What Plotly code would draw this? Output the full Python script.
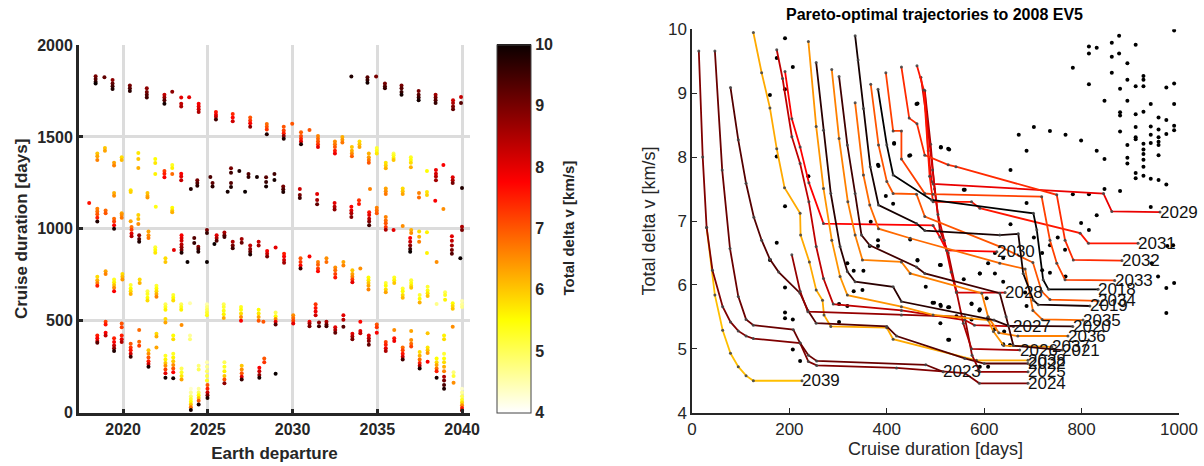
import plotly.graph_objects as go
from plotly.subplots import make_subplots

# ---------------- Left panel: launch windows (departure year, cruise days, total dv) ----------------
clusters = [
    # band A
    (2018.38, [1830, 1815, 1800, 1790], [9.0, 9.3, 9.6, 10.0]),
    (2018.9, [1825], [9.2]),
    (2019.38, [1810, 1790, 1775, 1760], [8.8, 9.2, 9.5, 9.8]),
    (2020.4, [1780, 1765, 1750], [9.0, 9.3, 9.7]),
    (2021.4, [1765, 1745, 1730, 1715], [8.8, 9.0, 9.3, 9.5]),
    (2022.44, [1730, 1715, 1700, 1680], [8.3, 8.7, 9.3, 9.9]),
    (2022.9, [1746], [8.8]),
    (2023.43, [1715, 1680, 1665], [8.0, 8.3, 8.5]),
    (2023.9, [1716], [8.0]),
    (2024.46, [1680, 1665, 1650, 1635], [7.8, 8.0, 8.2, 8.5]),
    (2025.48, [1635, 1620, 1610, 1595], [7.6, 7.9, 8.3, 9.5]),
    (2026.47, [1625, 1605, 1585], [7.4, 7.7, 8.2]),
    (2027.5, [1605, 1590, 1575, 1555], [7.0, 7.3, 7.8, 8.8]),
    (2028.48, [1570, 1555, 1540, 1515], [6.8, 7.0, 7.3, 9.8]),
    (2029.48, [1555, 1535, 1520, 1505, 1490], [7.0, 7.2, 7.5, 8.8, 9.8]),
    (2029.98, [1571], [7.0]),
    (2030.5, [1525, 1505, 1490, 1475, 1460], [6.9, 7.1, 7.4, 8.0, 9.8]),
    (2031.0, [1538], [7.0]),
    (2031.5, [1505, 1490, 1475, 1460, 1445], [6.6, 6.8, 7.0, 7.3, 8.0]),
    (2032.5, [1475, 1460, 1445, 1425, 1410], [6.5, 6.7, 7.0, 7.5, 7.9]),
    (2032.94, [1500, 1485, 1470], [6.2, 6.4, 6.7]),
    (2033.5, [1445, 1425, 1410, 1395], [6.0, 6.2, 6.5, 6.9]),
    (2033.95, [1475, 1460, 1445], [5.8, 6.0, 6.3]),
    (2034.5, [1410, 1390, 1375, 1360], [6.2, 6.4, 6.7, 7.0]),
    (2034.97, [1440, 1425, 1410], [5.2, 5.4, 5.7]),
    (2035.5, [1360, 1345, 1330], [5.7, 5.9, 6.2]),
    (2035.96, [1410, 1400, 1385, 1375], [5.0, 5.3, 5.6, 6.0]),
    (2036.98, [1390, 1375, 1360, 1335], [5.3, 5.5, 5.8, 6.2]),
    (2037.93, [1315], [5.5]),
    (2038.46, [1320, 1300, 1285, 1265], [7.9, 8.1, 8.4, 8.6]),
    (2038.9, [1347], [7.8]),
    (2039.45, [1280, 1265, 1250], [8.0, 8.5, 9.0]),
    (2040.0, [1222], [9.8]),
    (2033.47, [1828], [9.8]),
    (2034.42, [1825, 1810, 1795], [9.3, 9.6, 9.9]),
    (2034.93, [1828], [9.0]),
    (2035.45, [1790, 1775, 1765], [9.0, 9.3, 9.6]),
    (2036.43, [1780, 1765, 1745, 1730], [9.0, 9.3, 9.6, 9.9]),
    (2037.44, [1750, 1730, 1715, 1700], [9.0, 9.3, 9.6, 9.9]),
    (2038.44, [1730, 1715, 1700, 1685], [8.6, 9.0, 9.3, 9.6]),
    (2039.47, [1700, 1685, 1665, 1650], [8.2, 8.5, 8.9, 9.2]),
    (2039.94, [1717, 1684], [8.3, 9.3]),
    # band B
    (2018.48, [1410, 1395, 1375], [6.0, 6.3, 6.6]),
    (2018.93, [1440, 1425], [6.0, 6.3]),
    (2019.47, [1360, 1345], [6.3, 6.6]),
    (2019.92, [1390, 1375], [5.8, 6.1]),
    (2020.9, [1413, 1380, 1331], [5.7, 6.0, 6.2]),
    (2021.9, [1380, 1358, 1298], [5.5, 5.7, 5.6]),
    (2022.44, [1315, 1300, 1280], [7.2, 7.5, 7.8]),
    (2022.9, [1347, 1331, 1298], [5.3, 5.6, 6.8]),
    (2023.43, [1300, 1285, 1265], [7.8, 8.0, 8.3]),
    (2024.0, [1217], [9.8]),
    (2024.38, [1265, 1250, 1235], [9.0, 9.3, 9.7]),
    (2025.15, [1282], [9.4]),
    (2025.28, [1250, 1230], [9.2, 9.7]),
    (2026.17, [1202], [9.9]),
    (2026.37, [1330, 1305, 1250, 1228], [9.0, 9.5, 9.3, 9.8]),
    (2026.86, [1315], [9.8]),
    (2027.2, [1202], [10.0]),
    (2027.4, [1298, 1282], [9.3, 9.6]),
    (2027.9, [1282], [9.9]),
    (2028.44, [1280, 1255, 1230], [9.3, 9.6, 9.9]),
    (2028.93, [1298, 1266], [9.5, 9.9]),
    (2029.45, [1230, 1215, 1200], [9.0, 9.4, 9.8]),
    (2030.43, [1217, 1184, 1168], [8.2, 9.0, 9.5]),
    (2031.45, [1190, 1157, 1134], [8.0, 8.6, 9.2]),
    (2032.48, [1140, 1120, 1105], [8.0, 8.4, 8.8]),
    (2033.47, [1120, 1100, 1085, 1065], [7.8, 8.1, 8.5, 8.9]),
    (2033.92, [1155, 1135], [7.3, 7.6]),
    (2034.52, [1090, 1075, 1055, 1040, 1020], [7.6, 8.0, 8.4, 8.9, 9.5]),
    (2034.57, [1217], [6.6]),
    (2034.97, [1115, 1100, 1085], [6.6, 6.8, 7.0]),
    (2035.5, [1220, 1205, 1190], [6.3, 6.5, 6.7]),
    (2036.5, [1220, 1205, 1190], [5.8, 6.0, 6.3]),
    (2037.46, [1195, 1170], [6.6, 6.8]),
    (2037.93, [1200, 1184], [5.7, 5.9]),
    (2038.42, [1153], [7.8]),
    (2038.9, [1108], [6.5]),
    # band C
    (2018.0, [1141], [7.6]),
    (2018.48, [1110, 1095, 1080, 1060, 1040], [6.6, 6.8, 7.0, 7.5, 9.8]),
    (2018.97, [1100, 1085], [6.8, 7.0]),
    (2019.47, [1055, 1040, 1020, 1000], [6.8, 7.2, 7.8, 9.8]),
    (2019.47, [1195, 1180], [6.2, 6.5]),
    (2019.92, [1085, 1075, 1060], [6.3, 6.5, 6.7]),
    (2020.45, [1210, 1200, 1042], [5.7, 5.9, 6.3]),
    (2020.9, [1075, 1053, 1026], [5.9, 6.1, 6.5]),
    (2021.44, [1195, 1180, 1170], [6.0, 6.2, 6.4]),
    (2021.93, [1120], [5.4]),
    (2022.9, [1115, 1100, 1090], [5.5, 5.8, 6.2]),
    (2020.5, [1010, 995, 975, 960], [6.8, 7.2, 8.0, 8.4]),
    (2020.95, [965, 945, 930], [8.8, 9.3, 9.8]),
    (2021.5, [985, 965, 950], [6.3, 6.5, 6.7]),
    (2021.9, [900, 885, 870], [5.2, 5.5, 5.7]),
    (2022.5, [840, 820], [5.8, 6.0]),
    (2023.0, [885], [8.0]),
    (2023.45, [965, 950, 935, 915, 900, 885, 870], [7.8, 8.0, 8.2, 8.4, 8.7, 9.0, 9.8]),
    (2023.8, [820], [10.0]),
    (2024.2, [950, 923], [9.3, 9.6]),
    (2024.44, [903, 890, 876], [8.8, 9.4, 9.8]),
    (2024.95, [994, 978, 820], [9.0, 9.6, 10.0]),
    (2025.39, [918], [10.0]),
    (2025.52, [965, 950, 935], [8.0, 8.5, 9.3]),
    (2025.98, [980, 965, 955], [8.5, 9.0, 9.5]),
    (2026.47, [930, 910, 895], [8.5, 9.0, 9.5]),
    (2027.0, [945, 925], [8.6, 9.1]),
    (2027.5, [910, 890, 875, 860], [8.3, 8.7, 9.2, 9.8]),
    (2028.0, [930, 910], [8.2, 8.6]),
    (2028.5, [880, 865, 850], [7.8, 8.2, 9.0]),
    (2029.0, [898], [8.0]),
    (2029.5, [865, 850, 830, 815], [7.5, 7.8, 8.2, 8.6]),
    (2030.47, [840, 820, 800, 785], [7.0, 7.3, 7.8, 9.5]),
    (2031.0, [849], [7.8]),
    (2031.5, [820, 805, 785, 770], [6.6, 6.9, 7.2, 7.7]),
    (2032.0, [840, 820], [6.5, 6.8]),
    (2032.52, [790, 775, 755, 735], [6.5, 6.8, 7.2, 7.6]),
    (2033.0, [820, 800], [6.3, 6.6]),
    (2033.53, [775, 755, 740, 725, 710], [6.0, 6.3, 6.6, 7.2, 8.0]),
    (2034.0, [785], [6.5]),
    (2034.48, [735, 720, 705, 690, 670], [5.5, 5.7, 6.0, 6.3, 6.6]),
    (2035.5, [1065, 1045, 1030, 1010, 995], [6.6, 6.8, 7.0, 7.3, 8.5]),
    (2035.96, [994], [8.0]),
    (2036.5, [1015], [6.5]),
    (2036.94, [950, 930, 910, 890, 875], [7.8, 8.2, 8.8, 9.5, 10.0]),
    (2037.0, [994, 978], [6.2, 6.5]),
    (2037.47, [985, 957, 930], [5.8, 6.2, 6.6]),
    (2037.93, [981, 869], [5.6, 5.6]),
    (2038.5, [820], [6.5]),
    (2039.4, [960, 935, 910, 885, 865], [8.0, 8.3, 8.6, 9.0, 9.3]),
    (2039.9, [840], [10.0]),
    (2040.0, [1012, 994], [8.5, 9.0]),
    # band D
    (2018.48, [740, 720, 705, 690], [5.8, 6.2, 6.6, 7.5]),
    (2018.97, [770, 755], [6.3, 6.6]),
    (2019.47, [725, 710, 695, 680, 660], [5.3, 5.6, 6.0, 6.5, 7.8]),
    (2019.96, [755, 740, 725], [5.8, 6.1, 6.4]),
    (2020.45, [695, 675, 660, 645], [5.2, 5.5, 5.8, 6.2]),
    (2020.98, [725, 705], [5.8, 6.2]),
    (2021.44, [660, 645, 625, 610], [5.1, 5.3, 5.5, 5.8]),
    (2021.97, [690, 675, 660, 645, 630], [5.2, 5.5, 5.8, 6.2, 6.6]),
    (2022.5, [590, 575, 560], [5.0, 5.3, 5.6]),
    (2022.96, [640, 625, 610], [5.2, 5.5, 5.8]),
    (2023.43, [590, 575, 560], [5.0, 5.3, 5.6]),
    (2023.95, [595], [4.5]),
    (2024.95, [590, 575, 560, 545, 530], [4.5, 4.8, 5.0, 5.2, 5.4]),
    (2025.94, [590, 575, 555, 535, 515], [5.0, 5.2, 5.4, 5.6, 6.2]),
    (2026.96, [575, 560, 540, 520, 500], [5.3, 5.5, 5.8, 6.5, 7.8]),
    (2028.0, [560, 540, 520, 500], [5.5, 5.7, 6.3, 7.0]),
    (2028.28, [495], [7.0]),
    (2029.0, [545, 525, 510, 495, 480], [5.0, 5.5, 6.5, 8.0, 9.3]),
    (2030.04, [530, 515, 500, 485], [6.5, 6.8, 7.2, 8.0]),
    (2031.0, [495, 485, 470], [7.8, 8.5, 9.0]),
    (2031.36, [590, 570, 550, 530], [7.3, 7.6, 7.9, 8.2]),
    (2031.56, [490, 470], [8.8, 9.5]),
    (2032.0, [495, 480, 470], [8.5, 9.0, 9.5]),
    (2032.52, [465, 450, 435], [8.0, 8.5, 9.2]),
    (2033.0, [530, 505, 468], [8.0, 8.4, 9.3]),
    (2033.53, [430, 415, 400], [8.0, 8.5, 9.0]),
    (2034.0, [495, 444, 432], [7.7, 8.0, 8.3]),
    (2034.5, [420, 405, 390, 370], [8.0, 8.4, 8.8, 9.2]),
    (2034.97, [480, 465, 435], [7.0, 7.3, 7.8]),
    (2035.5, [705, 690, 670, 655], [5.2, 5.5, 5.8, 6.3]),
    (2036.0, [735, 720, 705], [5.3, 5.6, 6.0]),
    (2036.5, [675, 660, 640, 625], [5.2, 5.5, 5.8, 6.1]),
    (2037.0, [720, 705, 690, 680], [5.2, 5.4, 5.7, 6.0]),
    (2037.5, [640, 620, 600], [5.2, 5.5, 6.2]),
    (2037.97, [685, 665, 650, 635], [5.2, 5.4, 5.7, 6.0]),
    (2038.5, [591], [4.7]),
    (2039.0, [655, 640, 615], [5.0, 5.3, 5.6]),
    (2039.45, [595, 580, 565], [5.5, 5.8, 6.0]),
    (2040.0, [608, 590, 575], [4.5, 4.6, 4.7]),
    # band E (lowest)
    (2018.48, [420, 405, 390, 380], [7.5, 7.8, 8.2, 9.3]),
    (2018.97, [495, 480, 435, 420], [7.2, 7.6, 7.8, 8.3]),
    (2019.47, [405, 385, 365, 350, 335], [7.5, 7.8, 8.2, 8.8, 9.8]),
    (2019.92, [485, 465, 420, 400, 385], [7.0, 7.2, 7.5, 8.0, 8.5]),
    (2020.45, [375, 355, 340, 320, 305], [7.0, 7.3, 7.6, 8.2, 9.5]),
    (2020.95, [450, 386, 364], [6.8, 6.8, 7.2]),
    (2021.5, [340, 320, 300, 280, 265, 250], [6.0, 6.5, 7.0, 7.5, 8.2, 9.8]),
    (2021.97, [430, 415, 354], [5.8, 6.2, 6.3]),
    (2022.5, [510, 490], [5.8, 6.3]),
    (2022.5, [310, 290, 270, 255, 235, 215, 190], [5.3, 5.6, 6.0, 6.5, 7.2, 8.0, 9.9]),
    (2022.96, [420, 400], [5.5, 5.8]),
    (2022.96, [320, 300, 280, 260, 240, 220, 187], [5.3, 5.6, 6.0, 6.5, 7.0, 7.8, 9.9]),
    (2023.45, [477], [6.5]),
    (2023.45, [240, 220, 200, 180], [5.0, 5.3, 5.7, 6.3]),
    (2023.95, [420, 400], [4.6, 4.8]),
    (2024.0, [130, 110, 90, 75, 60, 45, 30, 15], [4.3, 4.6, 4.9, 5.2, 5.5, 6.0, 6.8, 9.9]),
    (2024.46, [130, 110, 95, 80, 65, 45], [4.6, 5.0, 5.5, 6.0, 7.0, 9.8]),
    (2024.46, [255, 235], [4.8, 5.0]),
    (2024.98, [150, 130, 110, 95, 80], [7.0, 7.5, 8.2, 9.0, 9.8]),
    (2024.95, [275, 250, 225, 200, 175], [4.5, 4.7, 4.9, 5.1, 5.3]),
    (2025.98, [275, 250, 225, 200, 180, 160], [5.0, 5.3, 5.6, 6.0, 7.0, 8.8]),
    (2027.0, [255, 235, 215, 195, 180], [6.0, 6.5, 7.0, 8.0, 9.6]),
    (2028.04, [245, 225, 205, 190], [7.8, 8.2, 8.8, 9.8]),
    (2028.33, [295, 275], [7.0, 7.3]),
    (2029.0, [212], [10.0]),
    (2035.5, [385, 370, 350, 335], [7.2, 7.5, 8.0, 8.5]),
    (2036.0, [450, 405, 390], [6.5, 7.6, 7.9]),
    (2036.5, [355, 340, 320, 305, 290], [6.8, 7.2, 7.6, 8.2, 9.5]),
    (2037.0, [444, 395, 375, 360], [6.3, 6.5, 6.8, 7.2]),
    (2037.5, [330, 310, 290, 270, 255, 240], [5.8, 6.2, 6.8, 7.5, 8.5, 9.8]),
    (2037.97, [432, 355, 340, 325, 277], [6.0, 5.7, 6.0, 6.4, 7.8]),
    (2038.5, [295, 275, 260, 240, 225, 190], [5.5, 5.8, 6.3, 6.8, 7.5, 9.9]),
    (2038.94, [420, 400], [5.6, 5.8]),
    (2038.94, [320, 295, 275, 250, 225], [5.2, 5.5, 5.8, 6.2, 6.6]),
    (2038.94, [195, 175, 150, 130], [8.5, 9.0, 9.4, 9.8]),
    (2039.45, [468], [6.5]),
    (2039.5, [220, 200, 163], [4.8, 5.2, 6.5]),
    (2040.0, [130, 110, 90, 70, 55, 40, 25, 12], [4.3, 4.6, 5.0, 5.3, 5.8, 6.5, 7.5, 9.0]),
]

dep_year = [c[0] for c in clusters for _ in c[1]]
cruise_days = [d for c in clusters for d in c[1]]
total_dv = [v for c in clusters for v in c[2]]

# ---------------- Right panel: Pareto fronts per launch year (cruise days, total dv) ----------------
pareto = {
    2039: [(30, 6.9), (47, 5.84), (63, 5.29), (79, 4.93), (95, 4.72), (111, 4.58), (126, 4.5), (226, 4.5)],
    2038: [(126, 9.95), (143, 9.32), (160, 8.77), (174, 8.13), (190, 7.52), (222, 7.12), (223, 6.78), (241, 6.36),
           (255, 5.92), (268, 5.76), (271, 5.53), (285, 5.35), (400, 5.33), (413, 5.15), (584, 4.82), (690, 4.82)],
    2024: [(14, 9.66), (22, 8.0), (30, 6.9), (42, 6.23), (63, 5.66), (79, 5.42), (95, 5.28), (111, 5.2), (126, 5.16),
           (222, 5.09), (239, 4.8), (256, 4.74), (420, 4.7), (560, 4.62), (590, 4.46), (690, 4.46)],
    2023: [(47, 9.66), (62, 7.8), (78, 6.57), (95, 5.82), (111, 5.46), (126, 5.37), (208, 5.3), (222, 5.09), (239, 4.9),
           (256, 4.81), (480, 4.75), (516, 4.64)],
    2022: [(79, 9.09), (95, 8.27), (111, 7.59), (127, 7.06), (143, 6.7), (160, 6.4), (178, 6.2), (222, 5.87), (238, 5.6),
           (255, 5.4), (400, 5.35), (420, 5.2), (560, 4.85), (600, 4.77), (690, 4.77)],
    2025: [(205, 6.47), (222, 5.9), (238, 5.58), (430, 5.53), (560, 5.5), (575, 4.9), (591, 4.64), (690, 4.64)],
    2026: [(478, 9.04), (490, 8.2), (498, 7.5), (509, 6.86), (526, 6.5), (543, 5.9), (557, 5.4), (574, 5.0),
           (673, 4.98)],
    2027: [(174, 9.68), (186, 9.23), (205, 8.32), (222, 7.9), (240, 7.3), (255, 6.6), (270, 6.1), (290, 5.7),
           (430, 5.6), (560, 5.45), (580, 5.37), (660, 5.35)],
    2028: [(470, 9.25), (482, 8.6), (494, 7.8), (505, 7.1), (518, 6.7), (532, 6.2), (543, 5.88), (643, 5.88)],
    2029: [(478, 9.04), (485, 8.1), (492, 7.62), (495, 7.58), (845, 7.43), (862, 7.15), (961, 7.14)],
    2030: [(191, 9.34), (205, 8.6), (222, 8.16), (240, 7.6), (270, 6.96), (495, 6.93), (509, 6.75), (523, 6.54),
           (626, 6.52)],
    2031: [(462, 9.43), (476, 9.05), (488, 7.7), (495, 7.3), (574, 7.3), (591, 7.2), (797, 6.81), (814, 6.65),
           (916, 6.65)],
    2032: [(430, 9.41), (446, 8.61), (462, 8.52), (478, 8.03), (526, 7.88), (542, 7.85), (749, 7.41), (766, 6.7),
           (783, 6.39), (883, 6.38)],
    2033: [(398, 9.32), (413, 8.41), (430, 8.41), (430, 7.97), (478, 7.43), (495, 7.42), (718, 7.38), (735, 6.70),
           (749, 6.34), (766, 6.08), (868, 6.07)],
    2034: [(367, 9.14), (383, 8.19), (400, 7.62), (413, 7.43), (461, 7.42), (478, 7.07), (632, 6.6), (700, 6.35),
           (718, 5.9), (735, 5.77), (834, 5.75)],
    2035: [(335, 8.85), (352, 7.72), (365, 7.25), (383, 6.88), (448, 6.73), (632, 6.34), (684, 6.25), (700, 5.6),
           (719, 5.46), (803, 5.45)],
    2036: [(287, 9.37), (302, 8.29), (320, 7.3), (335, 6.78), (350, 6.39), (430, 6.36), (448, 6.18), (595, 5.87),
           (608, 5.5), (630, 5.25), (669, 5.2), (772, 5.2)],
    2037: [(239, 9.81), (255, 8.48), (270, 7.51), (287, 6.7), (304, 6.13), (319, 5.84), (430, 5.66), (495, 5.53),
           (608, 5.45), (619, 5.27), (640, 5.05), (739, 5.03)],
    2021: [(302, 9.26), (319, 8.19), (335, 7.43), (348, 6.78), (365, 6.62), (461, 6.28), (478, 6.18), (632, 5.87),
           (645, 5.5), (660, 5.05), (760, 4.98)],
    2020: [(255, 9.48), (270, 8.42), (285, 7.43), (304, 6.6), (319, 6.21), (335, 6.05), (413, 5.97), (430, 5.74),
           (620, 5.45), (650, 5.36), (782, 5.35)],
    2019: [(335, 9.9), (341, 9.52), (352, 8.76), (366, 7.85), (383, 7.25), (461, 6.96), (478, 6.85), (632, 6.78),
           (670, 6.8), (680, 6.18), (701, 5.76), (711, 5.69), (817, 5.67)],
    2018: [(382, 9.06), (400, 8.19), (413, 7.72), (492, 7.33), (701, 7.12), (708, 6.86), (721, 6.08), (732, 5.93),
           (834, 5.93)],
}

# non-optimal trajectories (black dots)
other_days = [877, 990, 815, 831, 862, 911, 815, 877, 862, 894, 782, 862, 815, 894, 927, 927, 879, 911, 927, 974, 990,
              847, 894, 942, 990, 879, 879, 911, 927, 958, 974, 990, 990, 879, 911, 942, 958, 911, 911, 942, 958, 958,
              974, 894, 927, 942, 958, 927, 927, 958, 894, 894, 927, 927, 911, 911, 927, 942, 958, 974, 847, 831,
              799, 767, 735, 702, 671, 687, 654, 560, 511, 526, 461, 448, 415, 879, 847, 815, 782, 942, 831, 815, 799,
              654, 687, 988, 976, 944, 957, 990, 974, 974, 767, 766, 751, 735, 735, 719, 719, 702, 622, 639, 639, 622,
              591, 509, 463, 448, 497, 511, 526, 543, 574, 590, 574, 605, 622, 641, 653, 639, 684, 687, 526, 591, 608,
              174, 160, 191, 191, 191, 207, 207, 222, 302, 319, 302, 332, 332, 365, 382, 382, 191, 207, 160, 174, 191,
              174, 191, 239, 382, 398, 413, 367, 415, 463, 511, 528, 446, 383, 558, 352, 319, 350, 463, 511, 558, 591,
              608, 480, 494, 510, 528, 574, 591, 608, 510, 528]
other_dv = [9.90, 9.98, 9.73, 9.71, 9.79, 9.76, 9.62, 9.62, 9.57, 9.47, 9.40, 9.32, 9.14, 9.21, 9.27, 9.21, 9.07, 9.11,
            9.11, 9.09, 9.15, 8.88, 8.88, 8.83, 8.83, 8.70, 8.65, 8.67, 8.71, 8.62, 8.58, 8.49, 8.42, 8.40, 8.47, 8.48,
            8.43, 8.31, 8.28, 8.35, 8.31, 8.24, 8.36, 8.19, 8.21, 8.22, 8.19, 8.12, 8.05, 8.03, 7.99, 7.90, 7.96, 7.85,
            7.75, 7.67, 7.71, 7.66, 7.64, 7.57, 7.97, 8.10, 8.26, 8.35, 8.41, 8.47, 8.35, 8.10, 7.80, 7.49, 8.16,
            8.13, 8.83, 8.03, 8.22, 7.47, 7.50, 7.42, 7.42, 7.22, 7.09, 6.86, 6.97, 6.95, 7.28, 6.62, 6.61, 6.34,
            6.13, 6.03, 5.95, 5.56, 6.13, 6.55, 6.74, 6.62, 6.19, 6.50, 6.23, 6.74, 6.50, 6.42, 6.05, 6.18, 6.18,
            6.31, 6.38, 6.71, 5.72, 5.67, 5.65, 5.51, 5.70, 5.60, 5.46, 5.79, 5.31, 5.27, 5.06, 5.07, 5.88, 5.67,
            5.14, 4.72, 4.72, 6.66, 6.39, 5.96, 5.57, 5.48, 5.46, 4.99, 4.81, 5.70, 5.67, 5.42, 6.22, 5.90, 6.61,
            6.61, 6.70, 9.86, 9.41, 8.97, 9.55, 9.06, 8.01, 7.23, 7.70, 7.88, 7.39, 7.27, 6.99, 8.21, 8.84, 8.15,
            8.12, 8.02, 7.86, 7.49, 6.22, 6.34, 5.92, 6.39, 6.31, 6.09, 6.18, 6.34, 5.97, 5.72, 5.69, 5.65, 5.71,
            5.62, 5.48, 5.40, 5.14]

# ---------------- colours (MATLAB "hot", reversed for the left panel) ----------------
hot_rev = [[0.0, 'rgb(255,255,255)'], [0.25, 'rgb(255,255,0)'], [0.625, 'rgb(255,0,0)'], [1.0, 'rgb(10,0,0)']]


def hot(t):
    t = max(0.0, min(1.0, t))
    r = min(1.0, t / 0.375)
    g = min(1.0, max(0.0, (t - 0.375) / 0.375))
    b = min(1.0, max(0.0, (t - 0.75) / 0.25))
    return 'rgb(%d,%d,%d)' % (round(r * 255), round(g * 255), round(b * 255))


W, H = 1204, 466
FONT = 'Liberation Sans, Arial, Helvetica'
DARK = '#262626'

fig = make_subplots(rows=1, cols=2)

fig.add_trace(go.Scatter(
    x=dep_year, y=cruise_days, mode='markers',
    marker=dict(size=4, color=total_dv, cmin=4, cmax=10, colorscale=hot_rev,
                colorbar=dict(x=497 / W, xanchor='left', xpad=0, y=1 - 228.5 / H, yanchor='middle',
                              len=367.5 / H, lenmode='fraction', ypad=0,
                              thickness=34, outlinewidth=1, outlinecolor='#444',
                              tickvals=[4, 5, 6, 7, 8, 9, 10], ticktext=['<b>%d</b>' % v for v in range(4, 11)],
                              ticks='', tickfont=dict(size=16, color=DARK, family=FONT))),
    showlegend=False, hoverinfo='skip'), row=1, col=1)

fig.add_annotation(x=568 / W, y=1 - 228.5 / H, xref='paper', yref='paper', text='<b>Total delta v [km/s]</b>',
                   textangle=-90, showarrow=False, xanchor='center', yanchor='middle',
                   font=dict(size=15, color=DARK, family=FONT))

fig.add_trace(go.Scatter(x=other_days, y=other_dv, mode='markers',
                         marker=dict(size=4, color='black'), showlegend=False, hoverinfo='skip'), row=1, col=2)

for yr, pts in pareto.items():
    xs = [p[0] for p in pts]
    ys = [p[1] for p in pts]
    col = hot((yr - 2018) / 32.0)
    fig.add_trace(go.Scatter(x=xs, y=ys, mode='lines+markers', line=dict(color=col, width=1.8),
                             marker=dict(size=3, color='rgba(70,70,70,0.9)'),
                             showlegend=False, hoverinfo='skip'), row=1, col=2)
    fig.add_annotation(x=xs[-1], y=ys[-1], text=str(yr), showarrow=False, xanchor='left', yanchor='middle',
                       xshift=-2, font=dict(size=17, color='#111111', family=FONT),
                       row=1, col=2)

fig.update_xaxes(row=1, col=1, range=[2017.4, 2040.47], tickvals=[2020, 2025, 2030, 2035, 2040],
                 ticktext=['<b>%d</b>' % v for v in [2020, 2025, 2030, 2035, 2040]],
                 showgrid=True, gridcolor='#dcdcdc', gridwidth=3, zeroline=False,
                 showline=True, linecolor=DARK, linewidth=3, ticks='inside', ticklen=4, tickwidth=3,
                 tickcolor=DARK, tickfont=dict(size=16, color=DARK, family=FONT),
                 title=dict(text='<b>Earth departure</b>', font=dict(size=17, color=DARK, family=FONT), standoff=11),
                 domain=[79 / W, 470 / W], automargin=False)
fig.update_yaxes(row=1, col=1, range=[0, 2000], tickvals=[0, 500, 1000, 1500, 2000],
                 ticktext=['<b>%d</b>' % v for v in [0, 500, 1000, 1500, 2000]],
                 showgrid=True, gridcolor='#dcdcdc', gridwidth=3, zeroline=False,
                 showline=True, linecolor=DARK, linewidth=3, ticks='inside', ticklen=4, tickwidth=3,
                 tickcolor=DARK, tickfont=dict(size=16, color=DARK, family=FONT),
                 title=dict(text='<b>Cruise duration [days]</b>', font=dict(size=17, color=DARK, family=FONT),
                            standoff=6),
                 domain=[1 - 412.7 / H, 1 - 45 / H], automargin=False)
fig.update_xaxes(row=1, col=2, range=[0, 1000], tickvals=[0, 200, 400, 600, 800, 1000], showgrid=False,
                 zeroline=False, showline=True, linecolor=DARK, linewidth=1.5, ticks='inside', ticklen=5,
                 tickcolor=DARK, tickfont=dict(size=17, color=DARK, family=FONT),
                 title=dict(text='Cruise duration [days]', font=dict(size=18, color=DARK, family=FONT), standoff=4),
                 domain=[692 / W, 1179 / W], automargin=False)
fig.update_yaxes(row=1, col=2, range=[4, 10], tickvals=[4, 5, 6, 7, 8, 9, 10], showgrid=False,
                 zeroline=False, showline=True, linecolor=DARK, linewidth=1.5, ticks='inside', ticklen=5,
                 tickcolor=DARK, tickfont=dict(size=17, color=DARK, family=FONT),
                 title=dict(text='Total delta v [km/s]', font=dict(size=18, color=DARK, family=FONT), standoff=8),
                 domain=[1 - 412.7 / H, 1 - 29.3 / H], automargin=False)

fig.update_layout(width=W, height=H, plot_bgcolor='white', paper_bgcolor='white',
                  margin=dict(l=0, r=0, t=0, b=0, autoexpand=False),
                  font=dict(family=FONT, color=DARK))

fig.add_annotation(x=935 / W, y=1 - 14 / H, xref='paper', yref='paper',
                   text='<b>Pareto-optimal trajectories to 2008 EV5</b>',
                   showarrow=False, font=dict(size=16, color='black', family=FONT),
                   xanchor='center', yanchor='middle')

fig.write_html('out.html')
